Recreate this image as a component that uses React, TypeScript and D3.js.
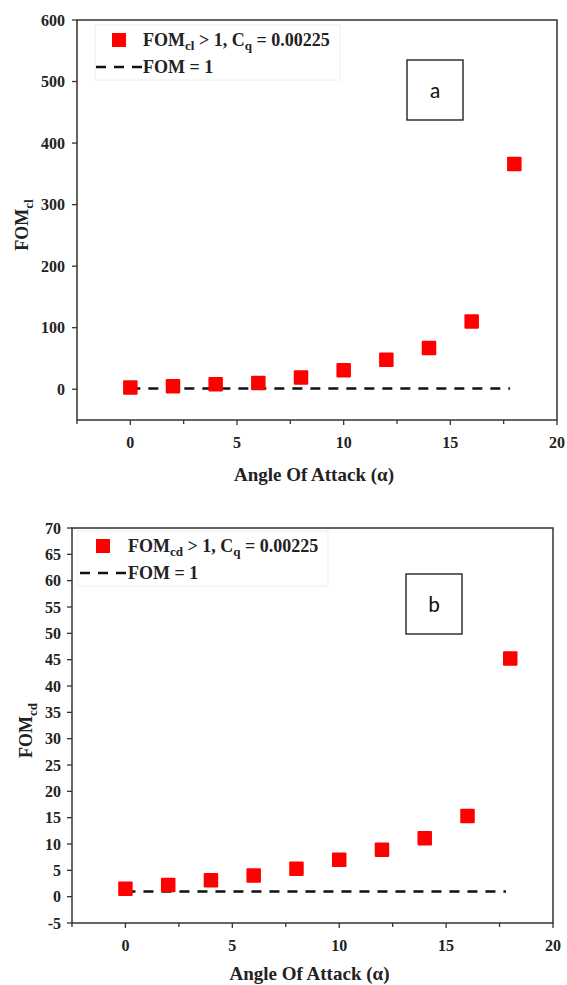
import React from "react";
import * as d3 from "d3";

const angles = [0, 2, 4, 6, 8, 10, 12, 14, 16, 18];
const fomCl = [3, 5, 8, 10, 19, 31, 48, 67, 110, 366];
const fomCd = [1.5, 2.2, 3.1, 4.0, 5.3, 7.0, 8.9, 11.1, 15.3, 45.2];
const refLineX = [0, 17.8];
const refLineY = [1, 1];
const xMajorTicks = [0, 5, 10, 15, 20];
const xMinorTicks = [-2.5, 2.5, 7.5, 12.5, 17.5];
const yTicksA = [0, 100, 200, 300, 400, 500, 600];
const yTicksB = [-5, 0, 5, 10, 15, 20, 25, 30, 35, 40, 45, 50, 55, 60, 65, 70];

const SERIF = "'Liberation Serif', 'Times New Roman', serif";
const AXIS = "#333";

type PanelProps = {
  left: number; right: number; top: number; bottom: number;
  yDomain: [number, number];
  yTicks: number[];
  values: number[];
  sub: string;
  letter: string;
  letterBox: { x: number; y: number; w: number; h: number };
  legend: { x: number; y: number; w: number; h: number; sqX: number; textX: number; dashX0: number };
  yLabelX: number;
  labelGap: number;
  titleDy: number;
};

function Panel(p: PanelProps) {
  const x = d3.scaleLinear().domain([-2.5, 20]).range([p.left, p.right]);
  const y = d3.scaleLinear().domain(p.yDomain).range([p.bottom, p.top]);
  const line = d3.line<number>().x((d) => x(d)).y((d, i) => y(refLineY[i]));
  const ms = 14.5;
  const lg = p.legend;
  return (
    <g>
      <rect x={p.left} y={p.top} width={p.right - p.left} height={p.bottom - p.top} fill="none" stroke={AXIS} strokeWidth={1.5} />
      {p.yTicks.map((t) => (
        <g key={"y" + t}>
          <line x1={p.left - 5} x2={p.left} y1={y(t)} y2={y(t)} stroke={AXIS} strokeWidth={1.3} />
          <text x={p.left - p.labelGap} y={y(t)} dy="0.35em" textAnchor="end" fontFamily={SERIF} fontWeight="bold" fontSize={16} fill="#222">{t < 0 ? "-" + Math.abs(t) : t}</text>
        </g>
      ))}
      {xMajorTicks.map((t) => (
        <g key={"x" + t}>
          <line x1={x(t)} x2={x(t)} y1={p.bottom} y2={p.bottom + 5} stroke={AXIS} strokeWidth={1.3} />
          <text x={x(t)} y={p.bottom + 28} textAnchor="middle" fontFamily={SERIF} fontWeight="bold" fontSize={16} fill="#222">{t}</text>
        </g>
      ))}
      {xMinorTicks.map((t) => (
        <line key={"m" + t} x1={x(t)} x2={x(t)} y1={p.bottom} y2={p.bottom + 4} stroke={AXIS} strokeWidth={1.3} />
      ))}
      <text x={(p.left + p.right) / 2 - 3} y={p.bottom + p.titleDy} textAnchor="middle" fontFamily={SERIF} fontWeight="bold" fontSize={19} fill="#222">Angle Of Attack (α)</text>
      <text transform={`translate(${p.yLabelX},${(p.top + p.bottom) / 2 + 5}) rotate(-90)`} textAnchor="middle" fontFamily={SERIF} fontWeight="bold" fontSize={18} fill="#222">
        FOM<tspan fontSize={13} dy={5}>{p.sub}</tspan>
      </text>
      <path d={line(refLineX) || ""} fill="none" stroke="#111" strokeWidth={2.5} strokeDasharray="10,8" />
      {angles.map((a, i) => (
        <rect key={"p" + a} x={x(a) - ms / 2} y={y(p.values[i]) - ms / 2} width={ms} height={ms} fill="#ff0000" rx={1} />
      ))}
      <rect x={lg.x} y={lg.y} width={lg.w} height={lg.h} fill="#fff" stroke="#eee" strokeWidth={1} />
      <rect x={lg.sqX} y={lg.y + 8} width={14} height={14} fill="#ff0000" />
      <text x={lg.textX} y={lg.y + 21} fontFamily={SERIF} fontWeight="bold" fontSize={18} fill="#222">
        FOM<tspan fontSize={13} dy={4}>{p.sub}</tspan><tspan dy={-4}>{"  > 1, C"}</tspan><tspan fontSize={13} dy={4}>q</tspan><tspan dy={-4}>{" = 0.00225"}</tspan>
      </text>
      <line x1={lg.dashX0} x2={lg.textX - 1} y1={lg.y + 42} y2={lg.y + 42} stroke="#111" strokeWidth={2.5} strokeDasharray="10,8" />
      <text x={lg.textX} y={lg.y + 48} fontFamily={SERIF} fontWeight="bold" fontSize={18} fill="#222">FOM = 1</text>
      <rect x={p.letterBox.x} y={p.letterBox.y} width={p.letterBox.w} height={p.letterBox.h} fill="#fff" stroke="#111" strokeWidth={1.3} />
      <text x={p.letterBox.x + p.letterBox.w / 2} y={p.letterBox.y + p.letterBox.h / 2} dy="0.35em" textAnchor="middle" fontFamily="Carlito, 'Open Sans', 'Liberation Sans', sans-serif" fontSize={22} fill="#111">{p.letter}</text>
    </g>
  );
}

export default function App() {
  return (
    <svg width={567} height={985} style={{ position: "absolute", left: 0, top: 0, background: "#fff" }}>
      <Panel left={77} right={557} top={20} bottom={420} yDomain={[-50, 600]} yTicks={yTicksA} values={fomCl} sub="cl" letter="a"
        letterBox={{ x: 407, y: 60, w: 56, h: 60 }}
        legend={{ x: 95, y: 25, w: 245, h: 55, sqX: 112, textX: 143, dashX0: 96 }}
        yLabelX={28} labelGap={12} titleDy={61} />
      <Panel left={72} right={553} top={528} bottom={923} yDomain={[-5, 70]} yTicks={yTicksB} values={fomCd} sub="cd" letter="b"
        letterBox={{ x: 406, y: 574, w: 56, h: 60 }}
        legend={{ x: 78, y: 531, w: 250, h: 55, sqX: 96, textX: 128, dashX0: 80 }}
        yLabelX={32} labelGap={11} titleDy={57} />
    </svg>
  );
}
